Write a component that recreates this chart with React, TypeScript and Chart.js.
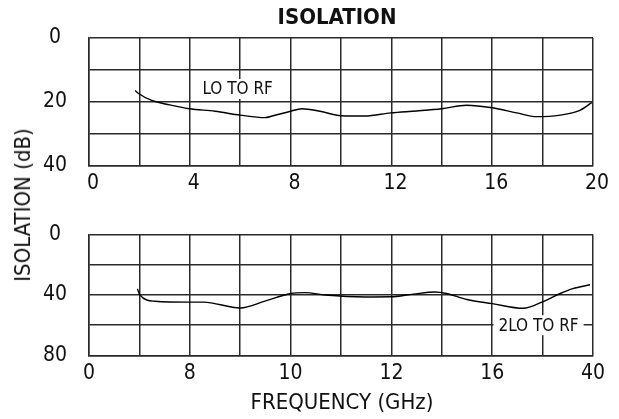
import React, { useEffect, useRef } from "react";
import { Chart, registerables } from "chart.js";

Chart.register(...registerables);

// ---- data ----
const topFreq = [1.83, 1.98, 2.49, 3.2, 3.98, 5.0, 6.0, 6.98, 7.31, 8.0, 8.44, 9.17, 10.0, 10.95, 11.98, 13.0, 14.0, 14.99, 16.0, 16.97, 17.76, 18.7, 19.48, 19.95];
const topIso = [16.5, 17.5, 19.6, 21.0, 22.2, 23.0, 24.2, 25.0, 24.4, 23.0, 22.2, 23.0, 24.4, 24.5, 23.5, 22.9, 22.2, 21.1, 21.9, 23.5, 24.7, 24.2, 22.7, 20.3];

const botFreq = [1.92, 2.02, 2.62, 3.98, 4.54, 6.0, 6.98, 8.0, 8.57, 9.37, 10.95, 11.98, 12.87, 13.73, 14.19, 15.0, 16.0, 17.23, 18.0, 18.7, 19.2, 19.88];
const botIso = [35.9, 40.0, 44.1, 44.7, 44.7, 48.6, 44.1, 39.0, 38.4, 40.0, 41.3, 41.2, 39.4, 38.0, 39.0, 43.0, 45.7, 48.8, 44.5, 39.0, 35.8, 33.2];

const topXTickLabels = ["0", "4", "8", "12", "16", "20"];
const botXTickLabels = ["0", "8", "10", "12", "16", "40"];
const topYTickLabels = [0, 20, 40];
const botYTickLabels = [0, 40, 80];

const topSeriesName = "LO TO RF";
const botSeriesName = "2LO TO RF";
const topLabelAt = [5.9, 16];
const botLabelAt = [17.84, 60];

const FONT = "'Liberation Sans Narrow', 'Arial Narrow', 'DejaVu Sans Condensed', sans-serif";
const GRID = "#2a2a2a";

function labelPlugin(text: string, at: number[], size: number) {
  return {
    id: "seriesLabel",
    afterDatasetsDraw(chart: any) {
      const { ctx, scales } = chart;
      const x = scales.x.getPixelForValue(at[0]);
      const y = scales.y.getPixelForValue(at[1]);
      ctx.save();
      ctx.font = `${size}px ${FONT}`;
      const w = ctx.measureText(text).width;
      ctx.fillStyle = "#ffffff";
      ctx.fillRect(x - w / 2 - 5, y - 10, w + 10, 20);
      ctx.fillStyle = "#111111";
      ctx.textAlign = "center";
      ctx.textBaseline = "middle";
      ctx.fillText(text, x, y + 1);
      ctx.restore();
    },
  };
}

function makeConfig(
  xs: number[],
  ys: number[],
  yMax: number,
  yStep: number,
  yLabels: number[],
  xLabels: string[],
  xLabelOffset: number,
  padTop: number,
  xAxisH: number,
  name: string,
  labelAt: number[]
): any {
  return {
    type: "line",
    data: {
      datasets: [
        {
          label: name,
          data: xs.map((x, i) => ({ x, y: ys[i] })),
          borderColor: "#000000",
          borderWidth: 1.4,
          pointRadius: 0,
          cubicInterpolationMode: "monotone",
          fill: false,
        },
      ],
    },
    options: {
      responsive: false,
      animation: false,
      devicePixelRatio: 1,
      layout: { padding: { top: padTop, right: 26, left: 0, bottom: 0 } },
      plugins: { legend: { display: false }, tooltip: { enabled: false }, title: { display: false } },
      scales: {
        x: {
          type: "linear",
          min: 0,
          max: 20,
          afterFit: (s: any) => {
            s.height = xAxisH;
          },
          ticks: {
            stepSize: 2,
            autoSkip: false,
            maxRotation: 0,
            padding: 6,
            labelOffset: xLabelOffset,
            color: "#111",
            font: { family: FONT, size: 21 },
            callback: (v: number) => (v % 4 === 0 ? xLabels[v / 4] : ""),
          },
          grid: { color: GRID, lineWidth: 1.5, drawTicks: false },
          border: { display: true, color: GRID, width: 1.5 },
        },
        y: {
          type: "linear",
          reverse: true,
          min: 0,
          max: yMax,
          afterFit: (s: any) => {
            s.width = 89;
          },
          ticks: {
            stepSize: yStep,
            autoSkip: false,
            padding: 22,
            crossAlign: "center",
            color: "#111",
            font: { family: FONT, size: 21 },
            callback: (v: number) => (yLabels.includes(v) ? String(v) : ""),
          },
          grid: { color: GRID, lineWidth: 1.5, drawTicks: false },
          border: { display: true, color: GRID, width: 1.5 },
        },
      },
    },
    plugins: [labelPlugin(name, labelAt, 17)],
  };
}

export default function App() {
  const topRef = useRef<HTMLCanvasElement>(null);
  const botRef = useRef<HTMLCanvasElement>(null);

  useEffect(() => {
    const c1 = new Chart(
      topRef.current as HTMLCanvasElement,
      makeConfig(topFreq, topIso, 40, 10, topYTickLabels, topXTickLabels, 4, 38, 32, topSeriesName, topLabelAt)
    );
    const c2 = new Chart(
      botRef.current as HTMLCanvasElement,
      makeConfig(botFreq, botIso, 80, 20, botYTickLabels, botXTickLabels, 0, 30, 30, botSeriesName, botLabelAt)
    );
    return () => {
      c1.destroy();
      c2.destroy();
    };
  }, []);

  const text: React.CSSProperties = {
    position: "absolute",
    fontFamily: FONT,
    color: "#111",
    whiteSpace: "nowrap",
    lineHeight: 1,
  };

  return (
    <div style={{ position: "absolute", left: 0, top: 0, width: 619, height: 419, background: "#fff" }}>
      <canvas ref={topRef} width={619} height={200} style={{ position: "absolute", left: 0, top: 0, width: 619, height: 200 }} />
      <canvas ref={botRef} width={619} height={190} style={{ position: "absolute", left: 0, top: 200, width: 619, height: 190 }} />
      <div style={{ ...text, left: 337, top: 17, fontSize: 22, fontWeight: "bold", transform: "translate(-50%,-50%)" }}>ISOLATION</div>
      <div style={{ ...text, left: 23, top: 205, fontSize: 22, transform: "translate(-50%,-50%) rotate(-90deg)" }}>ISOLATION (dB)</div>
      <div style={{ ...text, left: 342, top: 402, fontSize: 22, transform: "translate(-50%,-50%)" }}>FREQUENCY (GHz)</div>
    </div>
  );
}
